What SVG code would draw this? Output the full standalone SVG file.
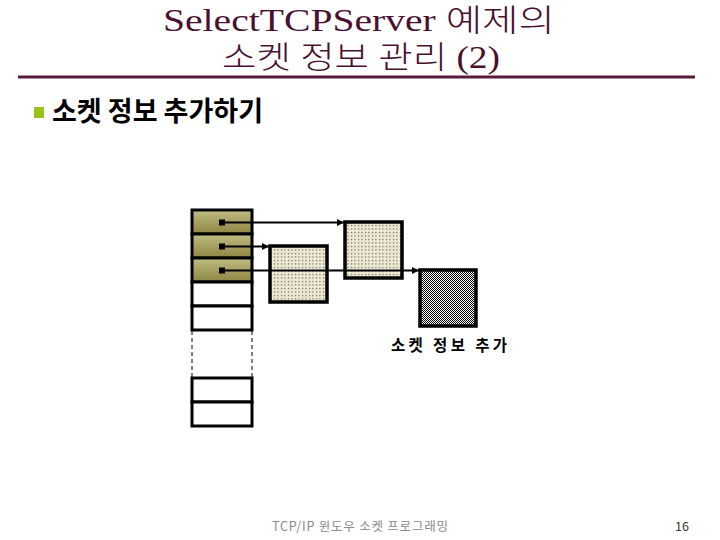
<svg xmlns="http://www.w3.org/2000/svg" width="720" height="540" viewBox="0 0 720 540">
<style>
.title{font-family:"Liberation Serif","Noto Sans CJK KR",serif;font-size:31px;fill:#4a1030;font-weight:300}
.cell{stroke:#000;stroke-width:3}
.box{stroke:#000;stroke-width:3.5}
.conn{stroke:#000;stroke-width:2;fill:none}
.lbl{font-family:"Noto Sans CJK KR",sans-serif;font-size:15.5px;fill:#000;font-weight:bold}
.foot{font-family:"Noto Sans CJK KR",sans-serif;font-size:12.5px}
</style>
<defs>
<linearGradient id="olive" x1="0" y1="0" x2="0" y2="1">
<stop offset="0" stop-color="#c2bd82"/>
<stop offset="1" stop-color="#8c8542"/>
</linearGradient>
<pattern id="dots" width="3.5" height="3.5" patternUnits="userSpaceOnUse">
<rect width="3.5" height="3.5" fill="#ece8d2"/>
<rect x="1" y="1" width="1" height="1" fill="#222"/>
</pattern>
<pattern id="check" width="2" height="2" patternUnits="userSpaceOnUse">
<rect width="2" height="2" fill="#fff"/>
<rect width="1" height="1" fill="#000"/>
<rect x="1" y="1" width="1" height="1" fill="#000"/>
</pattern>
<marker id="arr" markerWidth="8" markerHeight="8" refX="7" refY="4" orient="auto" markerUnits="userSpaceOnUse">
<path d="M0,0.5 L7,4 L0,7.5 Z" fill="#000"/>
</marker>
</defs>
<rect width="720" height="540" fill="#fff"/>

<g id="title">
<text class="title" x="163" y="31" textLength="392" lengthAdjust="spacingAndGlyphs">SelectTCPServer 예제의</text>
<text class="title" x="222" y="68" textLength="278" lengthAdjust="spacingAndGlyphs">소켓 정보 관리 (2)</text>
<line x1="18" y1="77" x2="695" y2="77" stroke="#5a1a3c" stroke-width="3"/>
</g>

<g id="bullet">
<rect x="34" y="107" width="10" height="11" fill="#99c21a"/>
<text x="52" y="121" font-family="'Noto Sans CJK KR',sans-serif" font-size="27" font-weight="bold" fill="#000">소켓 정보 추가하기</text>
</g>

<g id="socket-array">
<rect class="cell" x="192" y="210" width="60" height="24" fill="url(#olive)"/>
<rect class="cell" x="192" y="234" width="60" height="24" fill="url(#olive)"/>
<rect class="cell" x="192" y="258" width="60" height="24" fill="url(#olive)"/>
<rect class="cell" x="192" y="282" width="60" height="24" fill="#fff"/>
<rect class="cell" x="192" y="306" width="60" height="24" fill="#fff"/>
<line x1="192" y1="331" x2="192" y2="378" stroke="#000" stroke-width="1" stroke-dasharray="4,3"/>
<line x1="252" y1="331" x2="252" y2="378" stroke="#000" stroke-width="1" stroke-dasharray="4,3"/>
<rect class="cell" x="192" y="378" width="60" height="24" fill="#fff"/>
<rect class="cell" x="192" y="402" width="60" height="24" fill="#fff"/>
</g>

<g id="info1">
<rect class="box" x="270" y="246" width="57" height="56" fill="url(#dots)"/>
</g>
<g id="info2">
<rect class="box" x="345" y="222" width="57" height="56" fill="url(#dots)"/>
</g>
<g id="info3">
<rect class="box" x="420" y="270" width="56" height="56" fill="url(#check)"/>
<text class="lbl" x="391" y="351" textLength="116" lengthAdjust="spacing">소켓 정보 추가</text>
</g>

<g id="connectors">
<rect x="219" y="219.5" width="6" height="6" fill="#000"/>
<rect x="219" y="243.5" width="6" height="6" fill="#000"/>
<rect x="219" y="267.5" width="6" height="6" fill="#000"/>
<line class="conn" x1="222" y1="222.5" x2="344" y2="222.5" marker-end="url(#arr)"/>
<line class="conn" x1="222" y1="246.5" x2="269" y2="246.5" marker-end="url(#arr)"/>
<line class="conn" x1="222" y1="270.5" x2="419" y2="270.5" marker-end="url(#arr)"/>
</g>

<g id="footer">
<text class="foot" x="272" y="531" fill="#8a8a8a" textLength="176" lengthAdjust="spacing">TCP/IP 윈도우 소켓 프로그래밍</text>
<text class="foot" x="675" y="531" fill="#333">16</text>
</g>
</svg>
